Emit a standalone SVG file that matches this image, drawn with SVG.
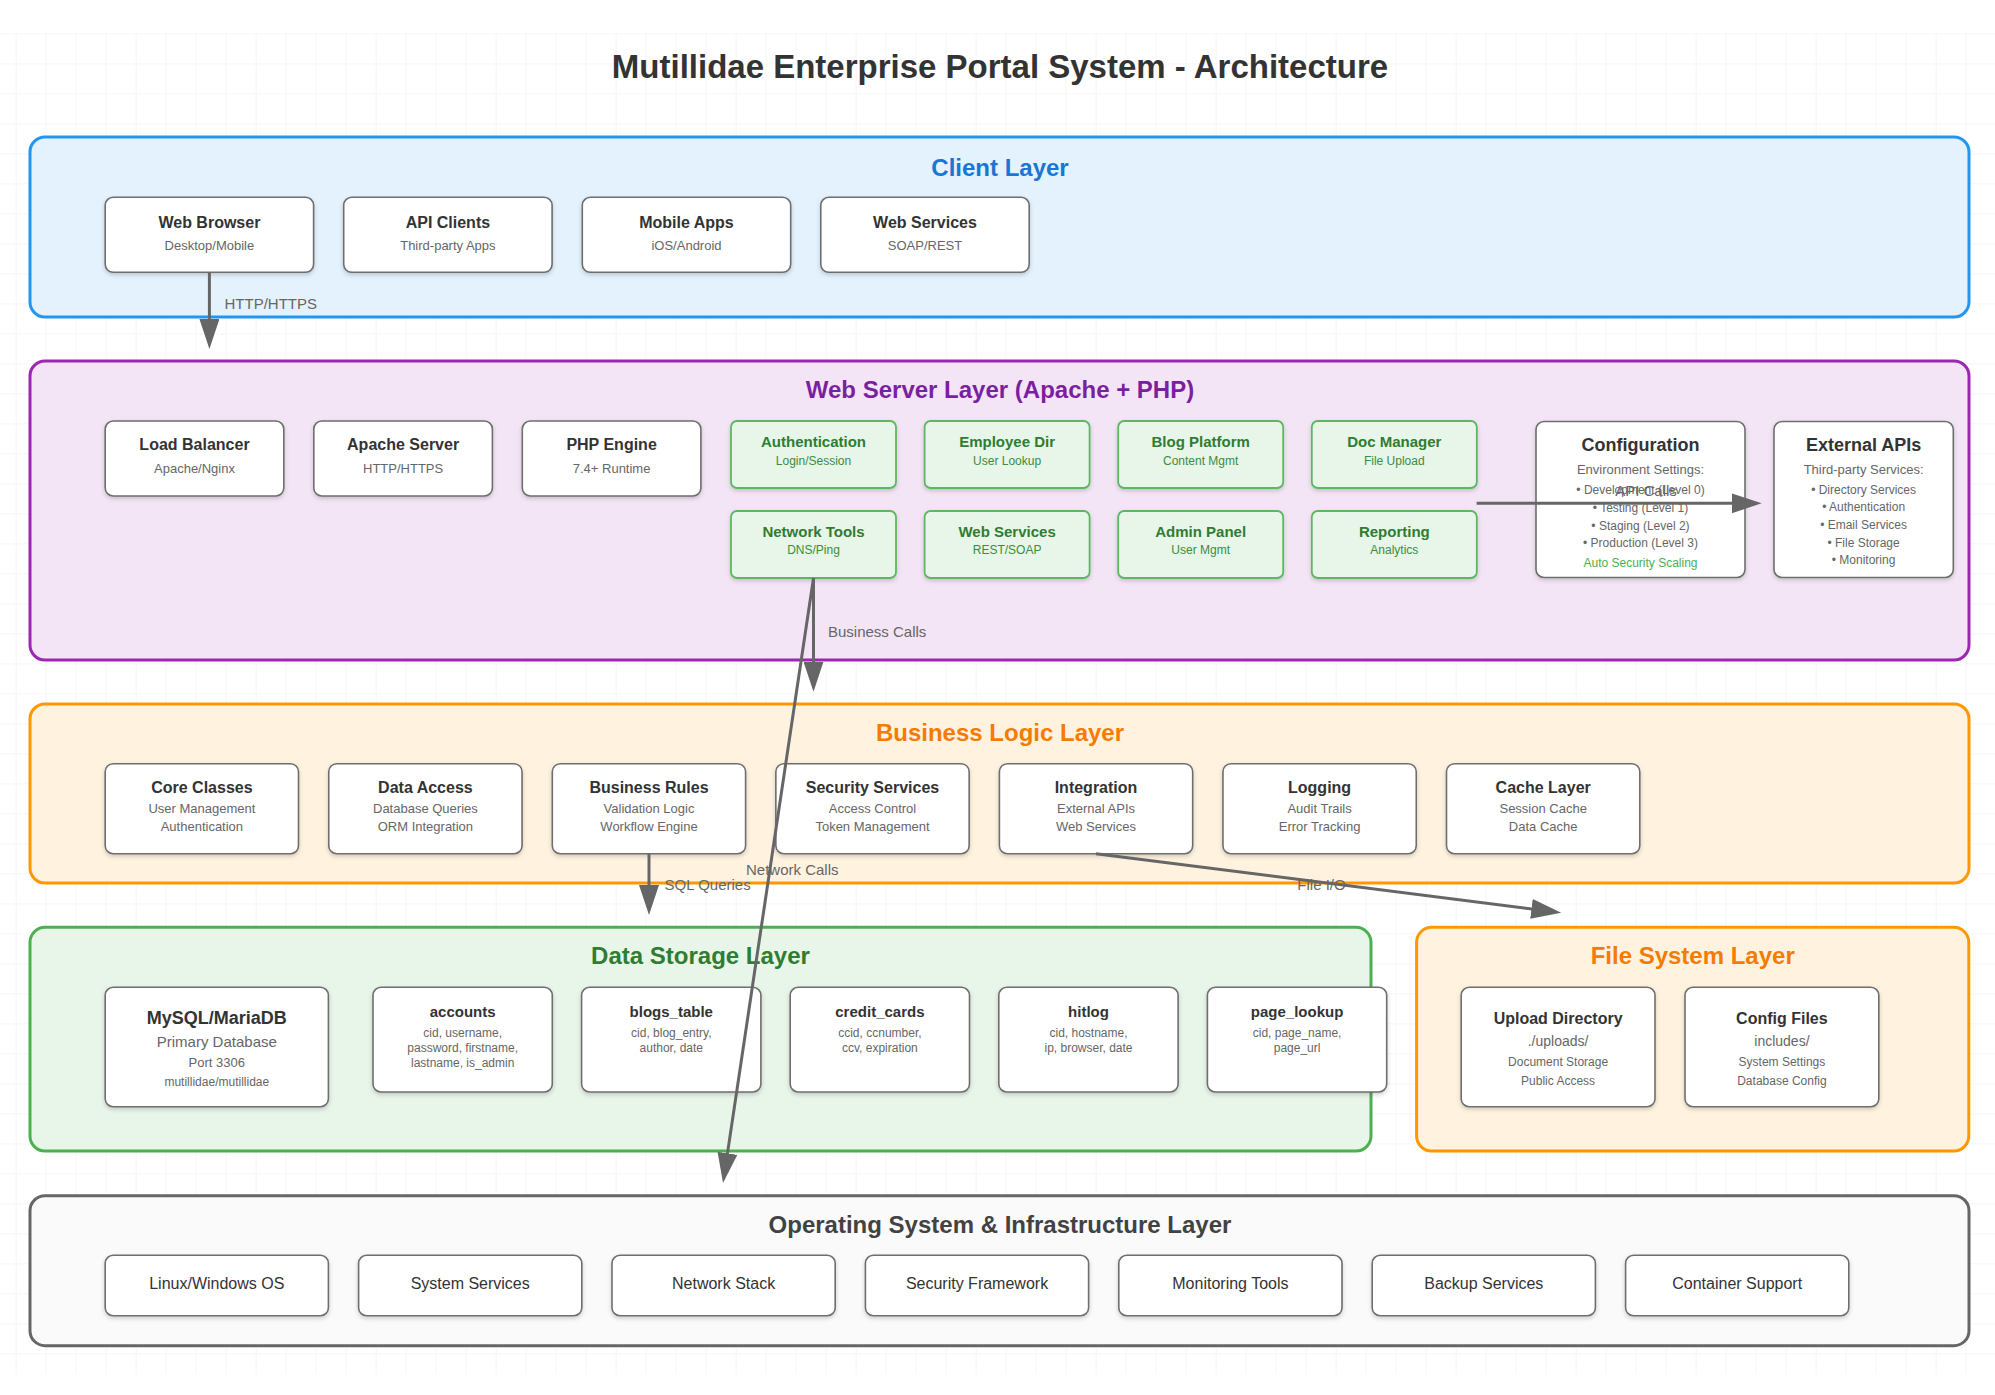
<svg xmlns="http://www.w3.org/2000/svg" width="1995" height="1395" viewBox="0 0 1995 1395">
<defs>
<pattern id="grid" x="15.7" y="33.3" width="30" height="30" patternUnits="userSpaceOnUse">
<path d="M0,0 H30 M0,0 V30" fill="none" stroke="#eeeeee" stroke-width="1"/>
</pattern>
<filter id="sh" x="-10%" y="-10%" width="120%" height="130%">
<feDropShadow dx="0" dy="2" stdDeviation="2" flood-color="#000" flood-opacity="0.18"/>
</filter>
<marker id="arrow" markerWidth="30" markerHeight="20" refX="20" refY="10" orient="auto" markerUnits="userSpaceOnUse">
<path d="M0,0 L30,10 L0,20 Z" fill="#666666"/>
</marker>
</defs>
<style>
text{font-family:"Liberation Sans",Arial,Helvetica,sans-serif;}
.title{font-size:33px;font-weight:bold;fill:#333;text-anchor:middle;}
.lt{font-size:24px;font-weight:bold;text-anchor:middle;}
.node{fill:#ffffff;stroke:#6e6e6e;stroke-width:1.6;filter:url(#sh);}
.gnode{fill:#e8f5e9;stroke:#5cb860;stroke-width:1.8;filter:url(#sh);}
.nt{font-size:16px;font-weight:bold;fill:#333;text-anchor:middle;}
.ns{font-size:13px;fill:#666;text-anchor:middle;}
.gt{font-size:15px;font-weight:bold;fill:#2e7d32;text-anchor:middle;}
.gs{font-size:12px;fill:#388e3c;text-anchor:middle;}
.ct{font-size:18px;font-weight:bold;fill:#333;text-anchor:middle;}
.cs{font-size:13px;fill:#666;text-anchor:middle;}
.cb{font-size:12px;fill:#666;text-anchor:middle;}
.tt{font-size:15px;font-weight:bold;fill:#333;text-anchor:middle;}
.ts{font-size:12px;fill:#666;text-anchor:middle;}
.ot{font-size:16px;fill:#333;text-anchor:middle;}
.conn{stroke:#666666;stroke-width:3;fill:none;marker-end:url(#arrow);}
.cl{font-size:15px;fill:#666;}
</style>
<rect x="0" y="0" width="1995" height="1395" fill="#ffffff"/>
<rect x="0" y="33" width="1995" height="1341" fill="url(#grid)"/>
<text class="title" x="1000" y="78">Mutillidae Enterprise Portal System - Architecture</text>

<g id="client-layer">
<rect x="30" y="137" width="1939" height="180" rx="15" fill="#e3f2fd" stroke="#2196f3" stroke-width="3"/>
<text class="lt" x="1000" y="176" fill="#1976d2">Client Layer</text>
</g>
<g id="web-browser"><rect class="node" x="105.2" y="197.3" width="208.4" height="75" rx="8"/><text class="nt" x="209.4" y="228">Web Browser</text><text class="ns" x="209.4" y="250">Desktop/Mobile</text></g>
<g id="api-clients"><rect class="node" x="343.7" y="197.3" width="208.4" height="75" rx="8"/><text class="nt" x="447.9" y="228">API Clients</text><text class="ns" x="447.9" y="250">Third-party Apps</text></g>
<g id="mobile-apps"><rect class="node" x="582.3" y="197.3" width="208.4" height="75" rx="8"/><text class="nt" x="686.5" y="228">Mobile Apps</text><text class="ns" x="686.5" y="250">iOS/Android</text></g>
<g id="web-services-client"><rect class="node" x="820.8" y="197.3" width="208.4" height="75" rx="8"/><text class="nt" x="925" y="228">Web Services</text><text class="ns" x="925" y="250">SOAP/REST</text></g>

<g id="web-server-layer">
<rect x="30" y="361" width="1939" height="299" rx="15" fill="#f3e5f5" stroke="#9c27b0" stroke-width="3"/>
<text class="lt" x="1000" y="398" fill="#7b1fa2">Web Server Layer (Apache + PHP)</text>
</g>
<g id="load-balancer"><rect class="node" x="105.2" y="421" width="178.6" height="75" rx="8"/><text class="nt" x="194.5" y="450">Load Balancer</text><text class="ns" x="194.5" y="473">Apache/Nginx</text></g>
<g id="apache-server"><rect class="node" x="313.8" y="421" width="178.6" height="75" rx="8"/><text class="nt" x="403.1" y="450">Apache Server</text><text class="ns" x="403.1" y="473">HTTP/HTTPS</text></g>
<g id="php-engine"><rect class="node" x="522.3" y="421" width="178.6" height="75" rx="8"/><text class="nt" x="611.6" y="450">PHP Engine</text><text class="ns" x="611.6" y="473">7.4+ Runtime</text></g>
<g id="authentication"><rect class="gnode" x="731" y="421" width="165" height="67" rx="6"/><text class="gt" x="813.5" y="447.3">Authentication</text><text class="gs" x="813.5" y="465">Login/Session</text></g>
<g id="employee-dir"><rect class="gnode" x="924.6" y="421" width="165" height="67" rx="6"/><text class="gt" x="1007.1" y="447.3">Employee Dir</text><text class="gs" x="1007.1" y="465">User Lookup</text></g>
<g id="blog-platform"><rect class="gnode" x="1118.2" y="421" width="165" height="67" rx="6"/><text class="gt" x="1200.7" y="447.3">Blog Platform</text><text class="gs" x="1200.7" y="465">Content Mgmt</text></g>
<g id="doc-manager"><rect class="gnode" x="1311.8" y="421" width="165" height="67" rx="6"/><text class="gt" x="1394.3" y="447.3">Doc Manager</text><text class="gs" x="1394.3" y="465">File Upload</text></g>
<g id="network-tools"><rect class="gnode" x="731" y="511" width="165" height="67" rx="6"/><text class="gt" x="813.5" y="536.7">Network Tools</text><text class="gs" x="813.5" y="554">DNS/Ping</text></g>
<g id="web-services"><rect class="gnode" x="924.6" y="511" width="165" height="67" rx="6"/><text class="gt" x="1007.1" y="536.7">Web Services</text><text class="gs" x="1007.1" y="554">REST/SOAP</text></g>
<g id="admin-panel"><rect class="gnode" x="1118.2" y="511" width="165" height="67" rx="6"/><text class="gt" x="1200.7" y="536.7">Admin Panel</text><text class="gs" x="1200.7" y="554">User Mgmt</text></g>
<g id="reporting"><rect class="gnode" x="1311.8" y="511" width="165" height="67" rx="6"/><text class="gt" x="1394.3" y="536.7">Reporting</text><text class="gs" x="1394.3" y="554">Analytics</text></g>
<g id="configuration"><rect class="node" x="1536" y="421.5" width="209" height="156" rx="8"/>
<text class="ct" x="1640.5" y="450.7">Configuration</text>
<text class="cs" x="1640.5" y="474.3">Environment Settings:</text>
<text class="cb" x="1640.5" y="494">• Development (Level 0)</text>
<text class="cb" x="1640.5" y="511.7">• Testing (Level 1)</text>
<text class="cb" x="1640.5" y="530">• Staging (Level 2)</text>
<text class="cb" x="1640.5" y="547.3">• Production (Level 3)</text>
<text class="cb" x="1640.5" y="567.3" style="fill:#4caf50">Auto Security Scaling</text></g>
<g id="external-apis"><rect class="node" x="1774" y="421.5" width="179.3" height="156" rx="8"/>
<text class="ct" x="1863.6" y="450.7">External APIs</text>
<text class="cs" x="1863.6" y="474.3">Third-party Services:</text>
<text class="cb" x="1863.6" y="494">• Directory Services</text>
<text class="cb" x="1863.6" y="511">• Authentication</text>
<text class="cb" x="1863.6" y="529">• Email Services</text>
<text class="cb" x="1863.6" y="546.7">• File Storage</text>
<text class="cb" x="1863.6" y="564">• Monitoring</text></g>

<g id="business-layer">
<rect x="30" y="704" width="1939" height="179" rx="15" fill="#fff3e0" stroke="#ff9800" stroke-width="3"/>
<text class="lt" x="1000" y="741" fill="#f57c00">Business Logic Layer</text>
</g>
<g id="core-classes"><rect class="node" x="105.2" y="763.7" width="193.3" height="90" rx="8"/><text class="nt" x="201.9" y="793.3">Core Classes</text><text class="ns" x="201.9" y="812.7">User Management</text><text class="ns" x="201.9" y="830.7">Authentication</text></g>
<g id="data-access"><rect class="node" x="328.75" y="763.7" width="193.3" height="90" rx="8"/><text class="nt" x="425.4" y="793.3">Data Access</text><text class="ns" x="425.4" y="812.7">Database Queries</text><text class="ns" x="425.4" y="830.7">ORM Integration</text></g>
<g id="business-rules"><rect class="node" x="552.3" y="763.7" width="193.3" height="90" rx="8"/><text class="nt" x="649" y="793.3">Business Rules</text><text class="ns" x="649" y="812.7">Validation Logic</text><text class="ns" x="649" y="830.7">Workflow Engine</text></g>
<g id="security-services"><rect class="node" x="775.85" y="763.7" width="193.3" height="90" rx="8"/><text class="nt" x="872.5" y="793.3">Security Services</text><text class="ns" x="872.5" y="812.7">Access Control</text><text class="ns" x="872.5" y="830.7">Token Management</text></g>
<g id="integration"><rect class="node" x="999.4" y="763.7" width="193.3" height="90" rx="8"/><text class="nt" x="1096" y="793.3">Integration</text><text class="ns" x="1096" y="812.7">External APIs</text><text class="ns" x="1096" y="830.7">Web Services</text></g>
<g id="logging"><rect class="node" x="1222.95" y="763.7" width="193.3" height="90" rx="8"/><text class="nt" x="1319.6" y="793.3">Logging</text><text class="ns" x="1319.6" y="812.7">Audit Trails</text><text class="ns" x="1319.6" y="830.7">Error Tracking</text></g>
<g id="cache-layer"><rect class="node" x="1446.5" y="763.7" width="193.3" height="90" rx="8"/><text class="nt" x="1543.2" y="793.3">Cache Layer</text><text class="ns" x="1543.2" y="812.7">Session Cache</text><text class="ns" x="1543.2" y="830.7">Data Cache</text></g>

<g id="data-storage-layer">
<rect x="30" y="927.3" width="1341" height="223.7" rx="15" fill="#e8f5e9" stroke="#4caf50" stroke-width="3"/>
<text class="lt" x="700.5" y="964" fill="#2e7d32">Data Storage Layer</text>
</g>
<g id="mysql"><rect class="node" x="105.2" y="987.3" width="223.2" height="119.4" rx="8"/>
<text class="ct" x="216.8" y="1024.3">MySQL/MariaDB</text>
<text x="216.8" y="1046.7" style="font-size:15px;fill:#666;text-anchor:middle">Primary Database</text>
<text x="216.8" y="1066.7" style="font-size:13px;fill:#666;text-anchor:middle">Port 3306</text>
<text class="ts" x="216.8" y="1085.7">mutillidae/mutillidae</text></g>
<g id="accounts"><rect class="node" x="373" y="987.3" width="179.3" height="104.7" rx="8"/><text class="tt" x="462.7" y="1016.7">accounts</text><text class="ts" x="462.7" y="1036.7">cid, username,</text><text class="ts" x="462.7" y="1051.7">password, firstname,</text><text class="ts" x="462.7" y="1066.7">lastname, is_admin</text></g>
<g id="blogs-table"><rect class="node" x="581.6" y="987.3" width="179.3" height="104.7" rx="8"/><text class="tt" x="671.3" y="1016.7">blogs_table</text><text class="ts" x="671.3" y="1036.7">cid, blog_entry,</text><text class="ts" x="671.3" y="1051.7">author, date</text></g>
<g id="credit-cards"><rect class="node" x="790.2" y="987.3" width="179.3" height="104.7" rx="8"/><text class="tt" x="879.9" y="1016.7">credit_cards</text><text class="ts" x="879.9" y="1036.7">ccid, ccnumber,</text><text class="ts" x="879.9" y="1051.7">ccv, expiration</text></g>
<g id="hitlog"><rect class="node" x="998.8" y="987.3" width="179.3" height="104.7" rx="8"/><text class="tt" x="1088.5" y="1016.7">hitlog</text><text class="ts" x="1088.5" y="1036.7">cid, hostname,</text><text class="ts" x="1088.5" y="1051.7">ip, browser, date</text></g>
<g id="page-lookup"><rect class="node" x="1207.4" y="987.3" width="179.3" height="104.7" rx="8"/><text class="tt" x="1297.1" y="1016.7">page_lookup</text><text class="ts" x="1297.1" y="1036.7">cid, page_name,</text><text class="ts" x="1297.1" y="1051.7">page_url</text></g>

<g id="file-system-layer">
<rect x="1416.6" y="927.3" width="552.2" height="223.7" rx="15" fill="#fff3e0" stroke="#ff9800" stroke-width="3"/>
<text class="lt" x="1692.7" y="964" fill="#f57c00">File System Layer</text>
</g>
<g id="upload-directory"><rect class="node" x="1461.2" y="987.3" width="193.8" height="119.4" rx="8"/><text class="nt" x="1558.1" y="1024.3">Upload Directory</text><text x="1558.1" y="1046" style="font-size:14px;fill:#666;text-anchor:middle">./uploads/</text><text class="ts" x="1558.1" y="1066">Document Storage</text><text class="ts" x="1558.1" y="1085">Public Access</text></g>
<g id="config-files"><rect class="node" x="1685" y="987.3" width="193.8" height="119.4" rx="8"/><text class="nt" x="1781.9" y="1024.3">Config Files</text><text x="1781.9" y="1046" style="font-size:14px;fill:#666;text-anchor:middle">includes/</text><text class="ts" x="1781.9" y="1066">System Settings</text><text class="ts" x="1781.9" y="1085">Database Config</text></g>

<g id="os-layer">
<rect x="30" y="1195.7" width="1939" height="150" rx="15" fill="#fafafa" stroke="#666666" stroke-width="3"/>
<text class="lt" x="1000" y="1232.7" fill="#424242">Operating System &amp; Infrastructure Layer</text>
</g>
<g id="linux-windows-os"><rect class="node" x="105.2" y="1255.3" width="223.2" height="60.4" rx="8"/><text class="ot" x="216.8" y="1289.3">Linux/Windows OS</text></g>
<g id="system-services"><rect class="node" x="358.6" y="1255.3" width="223.2" height="60.4" rx="8"/><text class="ot" x="470.2" y="1289.3">System Services</text></g>
<g id="network-stack"><rect class="node" x="612" y="1255.3" width="223.2" height="60.4" rx="8"/><text class="ot" x="723.6" y="1289.3">Network Stack</text></g>
<g id="security-framework"><rect class="node" x="865.4" y="1255.3" width="223.2" height="60.4" rx="8"/><text class="ot" x="977" y="1289.3">Security Framework</text></g>
<g id="monitoring-tools"><rect class="node" x="1118.8" y="1255.3" width="223.2" height="60.4" rx="8"/><text class="ot" x="1230.4" y="1289.3">Monitoring Tools</text></g>
<g id="backup-services"><rect class="node" x="1372.2" y="1255.3" width="223.2" height="60.4" rx="8"/><text class="ot" x="1483.8" y="1289.3">Backup Services</text></g>
<g id="container-support"><rect class="node" x="1625.6" y="1255.3" width="223.2" height="60.4" rx="8"/><text class="ot" x="1737.2" y="1289.3">Container Support</text></g>

<g id="connectors">
<line class="conn" x1="209.4" y1="272.3" x2="209.4" y2="339"/>
<text class="cl" x="224.5" y="309">HTTP/HTTPS</text>
<line class="conn" x1="813.5" y1="578" x2="813.5" y2="681.7"/>
<text class="cl" x="828" y="636.7">Business Calls</text>
<line class="conn" x1="813.5" y1="578" x2="724.5" y2="1173.1"/>
<text class="cl" x="746" y="875">Network Calls</text>
<line class="conn" x1="1476.6" y1="503.3" x2="1751.7" y2="503.3"/>
<text class="cl" x="1646" y="496" text-anchor="middle">API Calls</text>
<line class="conn" x1="649" y1="853.7" x2="649" y2="905"/>
<text class="cl" x="664.5" y="890">SQL Queries</text>
<line class="conn" x1="1096" y1="853.7" x2="1551.3" y2="911.4"/>
<text class="cl" x="1321.5" y="890" text-anchor="middle">File I/O</text>
</g>
</svg>
